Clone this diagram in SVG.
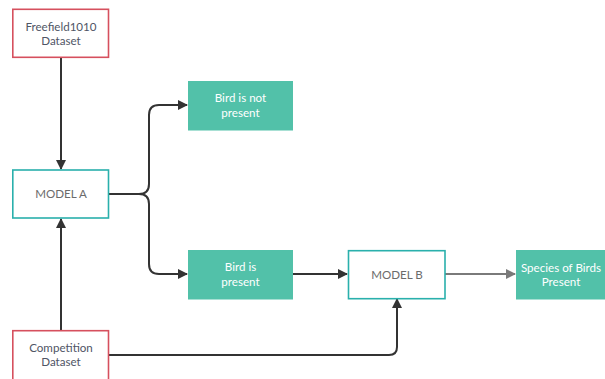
<svg xmlns="http://www.w3.org/2000/svg" width="605" height="379" viewBox="0 0 605 379">
<style>
.red{fill:#fff;stroke:#d6505e;stroke-width:1.6}
.teal{fill:#fff;stroke:#2ab0ac;stroke-width:1.6}
.green{fill:#52c1a9;stroke:none}
.t{font-family:Lato,"Open Sans",sans-serif;font-size:11.6px;text-anchor:middle;fill:#4f5565}
.tm{font-family:Lato,"Open Sans",sans-serif;font-size:11.6px;text-anchor:middle;fill:#6b6b6b}
.tw{font-family:Lato,"Open Sans",sans-serif;font-size:11.6px;text-anchor:middle;fill:#ffffff}
.c{fill:none;stroke:#333;stroke-width:2}
.g{fill:none;stroke:#7a7a7a;stroke-width:2}
</style>
<defs>
<marker id="ah" markerWidth="10" markerHeight="10" refX="9" refY="5" orient="auto" markerUnits="userSpaceOnUse"><path d="M0,0 L10,5 L0,10 Z" fill="#333"/></marker>
<marker id="ahg" markerWidth="10" markerHeight="10" refX="9" refY="5" orient="auto" markerUnits="userSpaceOnUse"><path d="M0,0 L10,5 L0,10 Z" fill="#7a7a7a"/></marker>
</defs>
<g id="connectors">
<path class="c" d="M61,57 V169" marker-end="url(#ah)"/>
<path class="c" d="M61,331 V219" marker-end="url(#ah)"/>
<path class="c" d="M108,194 H139 Q149,194 149,184 V115 Q149,105 159,105 H187" marker-end="url(#ah)"/>
<path class="c" d="M139,194 Q149,194 149,204 V264 Q149,274 159,274 H187"  marker-end="url(#ah)"/>
<path class="c" d="M293,274 H347" marker-end="url(#ah)"/>
<path class="g" d="M445,274 H515" marker-end="url(#ahg)"/>
<path class="c" d="M108,355 H389 Q397,355 397,347 V299" marker-end="url(#ah)"/>
</g>
<g id="freefield">
<rect class="red" x="12.8" y="9.3" width="95.7" height="48"/>
<text class="t" x="61" y="31">Freefield1010</text>
<text class="t" x="61" y="45">Dataset</text>
</g>
<g id="modelA">
<rect class="teal" x="12.8" y="170" width="95.7" height="48"/>
<text class="tm" x="61" y="198">MODEL A</text>
</g>
<g id="notpresent">
<rect class="green" x="188" y="81" width="105" height="49.5"/>
<text class="tw" x="240.5" y="102">Bird is not</text>
<text class="tw" x="240.5" y="117">present</text>
</g>
<g id="present">
<rect class="green" x="188" y="250" width="105" height="49.5"/>
<text class="tw" x="240.5" y="271">Bird is</text>
<text class="tw" x="240.5" y="286">present</text>
</g>
<g id="modelB">
<rect class="teal" x="348.5" y="250.7" width="96.5" height="48"/>
<text class="tm" x="397" y="279">MODEL B</text>
</g>
<g id="species">
<rect class="green" x="516" y="250" width="95" height="49.5"/>
<text class="tw" x="561" y="272">Species of Birds</text>
<text class="tw" x="561" y="286">Present</text>
</g>
<g id="competition">
<rect class="red" x="12.8" y="330.7" width="95.7" height="50"/>
<text class="t" x="61" y="352">Competition</text>
<text class="t" x="61" y="366">Dataset</text>
</g>
</svg>
